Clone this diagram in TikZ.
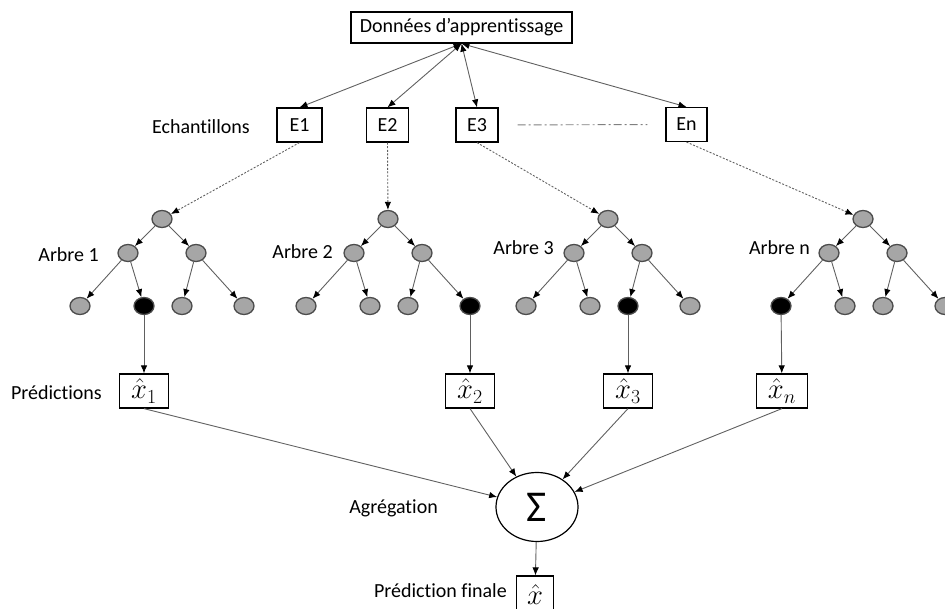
\documentclass[tikz,border=0pt]{standalone}
\usepackage{fontspec}
\setmainfont{Carlito}[Ligatures=NoCommon]
\usetikzlibrary{arrows.meta,shapes.geometric}
\definecolor{treegray}{HTML}{A6A6A6}
\definecolor{edgegray}{HTML}{606060}
\newcommand{\bigmath}[1]{\scalebox{1.15}{$#1$}}
\begin{document}
\begin{tikzpicture}[x=1pt,y=-1pt,
  every node/.style={font=\fontsize{20}{24}\selectfont},
  box/.style={draw=black,line width=1.2pt,fill=white,inner sep=0pt,minimum height=34pt},
  mathbox/.style={box,minimum width=49pt,font=\fontsize{24}{28}\selectfont},
  tn/.style={ellipse,draw=black!70,line width=1.3pt,minimum width=20pt,minimum height=17pt,inner sep=0pt},
  lbl/.style={anchor=east,inner sep=0pt},
  tip/.style={-{Latex[length=8pt,width=6.5pt,color=black]}},
  arr/.style={draw=edgegray,line width=0.9pt,tip},
  twoarr/.style={draw=edgegray,line width=0.9pt,{Latex[length=8pt,width=6.5pt,color=black]}-{Latex[length=8pt,width=6.5pt,color=black]}},
  dotarr/.style={draw=edgegray,line width=0.9pt,dash pattern=on 2pt off 1.6pt,tip},
  dashdot/.style={draw=gray,line width=0.9pt,dash pattern=on 8pt off 3pt on 2pt off 3pt}
]
\useasboundingbox (0,0) rectangle (945,609);

% top
\node[box,minimum width=221pt,minimum height=31pt] (D) at (461.5,27.5) {Données d’apprentissage};

% samples
\node[box,minimum width=45pt] (E1) at (299.5,125) {E1};
\node[box,minimum width=42pt] (E2) at (387.5,125) {E2};
\node[box,minimum width=42pt] (E3) at (477,125) {E3};
\node[box,minimum width=41pt] (En) at (686.5,124.5) {En};
\node[lbl] at (250,127) {Echantillons};

\draw[twoarr] (D.south) -- (E1.north);
\draw[twoarr] (D.south) -- (E2.north);
\draw[twoarr] (D.south) -- (E3.north);
\draw[twoarr] (D.south) -- (En.north);
\draw[dashdot,shorten <=19pt,shorten >=18pt] (E3.east) -- (En.west);

% trees
\foreach \t/\x/\fc/\fd/\fe/\ff in {1/162/treegray/black/treegray/treegray,
                                   2/388/treegray/treegray/treegray/black,
                                   3/608/treegray/treegray/black/treegray,
                                   4/863/black/treegray/treegray/treegray}{
  \node[tn,fill=treegray] (r\t) at (\x,219) {};
  \node[tn,fill=treegray] (a\t) at (\x-34,253) {};
  \node[tn,fill=treegray] (b\t) at (\x+34,253) {};
  \node[tn,fill=\fc] (c\t) at (\x-82,306) {};
  \node[tn,fill=\fd] (d\t) at (\x-18,306) {};
  \node[tn,fill=\fe] (e\t) at (\x+20,306) {};
  \node[tn,fill=\ff] (f\t) at (\x+82,306) {};
  \draw[arr] (r\t) -- (a\t);
  \draw[arr] (r\t) -- (b\t);
  \draw[arr] (a\t) -- (c\t);
  \draw[arr] (a\t) -- (d\t);
  \draw[arr] (b\t) -- (e\t);
  \draw[arr] (b\t) -- (f\t);
}
\node[lbl] at (99,255) {Arbre 1};
\node[lbl] at (333,252) {Arbre 2};
\node[lbl] at (554,248) {Arbre 3};
\node[lbl] at (810,248) {Arbre n};

\draw[dotarr] (E1.south) -- (r1);
\draw[dotarr] (E2.south) -- (r2);
\draw[dotarr] (E3.south) -- (r3);
\draw[dotarr] (En.south) -- (r4);

% predictions
\node[mathbox] (p1) at (144,391) {\bigmath{\hat{x}_1}};
\node[mathbox] (p2) at (470,391) {\bigmath{\hat{x}_2}};
\node[mathbox] (p3) at (628,391) {\bigmath{\hat{x}_3}};
\node[mathbox,minimum width=51pt] (p4) at (782,391) {\bigmath{\hat{x}_n}};
\node[lbl] at (102,393) {Prédictions};

\draw[arr] (d1) -- (p1);
\draw[arr] (f2) -- (p2);
\draw[arr] (e3) -- (p3);
\draw[arr] (c4) -- (p4);

% aggregation
\node[ellipse,draw=black,line width=1.2pt,minimum width=82pt,minimum height=69pt,inner sep=0pt,font=\fontsize{44}{44}\selectfont] (S) at (537,507) {Σ};
\node[lbl] at (438,508) {Agrégation};

\draw[arr] (p1.south) -- (S);
\draw[arr] (p2.south) -- (S);
\draw[arr] (p3.south) -- (S);
\draw[arr] (p4.south) -- (S);

% final
\node[box,minimum width=37pt,minimum height=38pt,font=\fontsize{24}{28}\selectfont] (F) at (535,595) {\bigmath{\hat{x}}};
\node[lbl] at (507,591) {Prédiction finale};
\draw[arr] (S) -- (F);
\end{tikzpicture}
\end{document}
